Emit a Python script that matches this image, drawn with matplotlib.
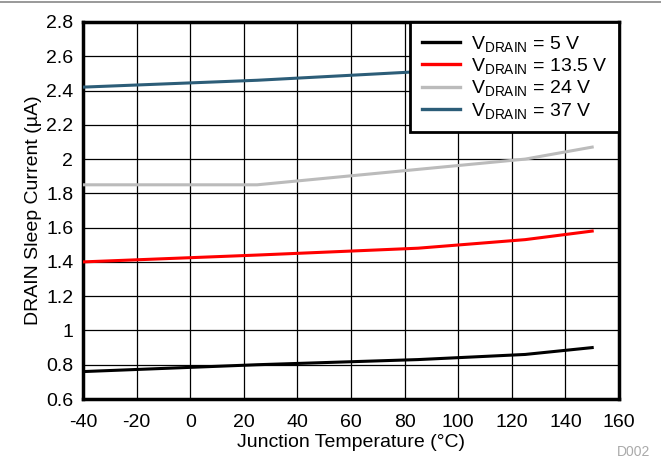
import matplotlib
matplotlib.use("Agg")
import matplotlib.pyplot as plt
from matplotlib.lines import Line2D

plt.rcParams['font.family'] = ['Liberation Sans', 'DejaVu Sans']
plt.rcParams['mathtext.fontset'] = 'custom'
plt.rcParams['mathtext.rm'] = 'Liberation Sans'
plt.rcParams['mathtext.it'] = 'Liberation Sans:italic'
plt.rcParams['axes.unicode_minus'] = False

temps = [-40, 25, 85, 125, 150]
v5 = [0.76, 0.80, 0.83, 0.86, 0.90]
v13_5 = [1.40, 1.44, 1.48, 1.53, 1.58]
v24 = [1.85, 1.85, 1.94, 2.00, 2.07]
v37 = [2.42, 2.46, 2.51, 2.55, 2.59]
labels = [r'V$_{\mathrm{DRAIN}}$ = 5 V', r'V$_{\mathrm{DRAIN}}$ = 13.5 V',
          r'V$_{\mathrm{DRAIN}}$ = 24 V', r'V$_{\mathrm{DRAIN}}$ = 37 V']
colors = ['#000000', '#ff0000', '#bbbbbb', '#2c5d78']
xticks = list(range(-40, 161, 20))
yticks = [0.6, 0.8, 1.0, 1.2, 1.4, 1.6, 1.8, 2.0, 2.2, 2.4, 2.6, 2.8]
yticklabels = ['0.6', '0.8', '1', '1.2', '1.4', '1.6', '1.8', '2', '2.2', '2.4', '2.6', '2.8']

fig = plt.figure(figsize=(6.61, 4.62), dpi=100)
L, R, T, B = 83, 619, 22, 399
ax = fig.add_axes([L/661, 1-B/462, (R-L)/661, (B-T)/462])

for ys, c, lab in zip([v5, v13_5, v24, v37], colors, labels):
    ax.plot(temps, ys, color=c, lw=2.2, label=lab, zorder=3)

ax.set_xlim(-40, 160)
ax.set_ylim(0.6, 2.8)
ax.set_xticks(xticks)
ax.set_yticks(yticks)
ax.set_yticklabels(yticklabels)
ax.grid(True, color='#000000', lw=0.9, zorder=1)
ax.set_axisbelow(True)
ax.tick_params(axis='x', length=0, labelsize=14, pad=11)
ax.tick_params(axis='y', length=0, labelsize=14, pad=7)
for s in ax.spines.values():
    s.set_linewidth(2.5)
ax.set_xlabel('Junction Temperature (°C)', fontsize=14, labelpad=2)
ax.set_ylabel('DRAIN Sleep Current (µA)', fontsize=14, labelpad=3)

leg = ax.legend(loc='upper right', fontsize=14, frameon=True, fancybox=False,
                borderpad=0.6, labelspacing=0.12, handlelength=1.95, handletextpad=0.55,
                borderaxespad=0.0, bbox_to_anchor=(1.0, 1.0))
leg.get_frame().set_edgecolor('black')
leg.get_frame().set_linewidth(2)
leg.get_frame().set_alpha(1)
leg.set_zorder(5)
for h in leg.get_lines():
    h.set_linewidth(2.4)

fig.add_artist(Line2D([0, 1], [1-2/462, 1-2/462], color='#888888', lw=1.2))
fig.text(650/661, 1-452/462, 'D002', color='#aaaaaa', fontsize=10, ha='right', va='center')

fig.savefig('out.png', dpi=100)
